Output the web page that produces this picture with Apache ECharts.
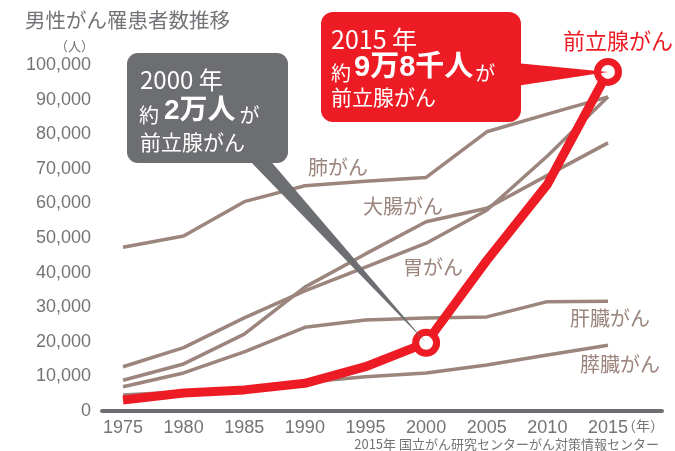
<!DOCTYPE html>
<html>
<head>
<meta charset="utf-8">
<script src="https://cdn.jsdelivr.net/npm/echarts@6/dist/echarts.min.js"></script>
<style>
html,body{margin:0;padding:0;background:#fff;}
#chart{width:675px;height:451px;}
</style>
</head>
<body>
<div id="chart"></div>
<script>
// ---- data ----
const years = [1975, 1980, 1985, 1990, 1995, 2000, 2005, 2010, 2015];
const prostate = [3200, 5200, 6100, 8000, 12800, 19700, 43500, 65500, 98000];
const topLine  = [47300, 50600, 60500, 65100, 66400, 67500, 80700, 85800, 90800];
const lung     = [12800, 18300, 26900, 34700, 41600, 48500, 58000, 73700, 90800];
const colon    = [8900, 13600, 22200, 35800, 45400, 54700, 58600, 68100, 77500];
const liver    = [7000, 11000, 17100, 24200, 26300, 26900, 27200, 31600, 31700];
const pancreas = [4600, 5600, 6600, 8300, 9900, 11000, 13300, 16200, 19000];
const yTicks = [0, 10000, 20000, 30000, 40000, 50000, 60000, 70000, 80000, 90000, 100000];
const markYears = [2000, 2015];

const RED = '#ed1c24', BROWN = '#9b857d', GRAY = '#6d6e71', LGRAY = '#737477';
const JP = '"Noto Sans CJK JP", "Noto Sans", sans-serif';
const NUM = '"Liberation Sans", Arial, sans-serif';
const BOLDNUM = '"Liberation Sans", "Noto Sans CJK JP", sans-serif';

const chart = echarts.init(document.getElementById('chart'));

function pairs(arr) { return years.map((y, i) => [y, arr[i]]); }
function brown(name, arr) {
  return { name, type: 'line', data: pairs(arr), symbol: 'none', z: 2,
    lineStyle: { color: BROWN, width: 3.5 }, silent: true, animation: false };
}
const prostateData = years.map((y, i) => {
  if (markYears.indexOf(y) >= 0) {
    return { value: [y, prostate[i]], symbol: 'circle', symbolSize: 21,
      itemStyle: { color: '#fff', borderColor: RED, borderWidth: 7 } };
  }
  return { value: [y, prostate[i]], symbol: 'none' };
});

chart.setOption({
  animation: false,
  grid: { left: 102, right: 13, top: 65, bottom: 40, containLabel: false },
  xAxis: {
    type: 'value', min: 1973.268, max: 2019.454,
    axisLine: { show: true, onZero: true, lineStyle: { color: GRAY, width: 4 } },
    axisTick: { show: false },
    splitLine: { show: false },
    axisLabel: { customValues: years, formatter: v => String(v), color: LGRAY,
      fontSize: 18, fontFamily: NUM, margin: 8 }
  },
  yAxis: {
    type: 'value', min: 0, max: 100000, interval: 10000,
    axisLine: { show: false }, axisTick: { show: false }, splitLine: { show: false },
    axisLabel: { color: LGRAY, fontSize: 18, fontFamily: NUM, margin: 11,
      formatter: v => v.toLocaleString('en-US') }
  },
  series: [
    brown('胃がん(上)', topLine),
    brown('肺がん', lung),
    brown('大腸がん', colon),
    brown('肝臓がん', liver),
    brown('膵臓がん', pancreas),
    { name: '前立腺がん', type: 'line', data: prostateData, symbol: 'none', z: 5,
      lineStyle: { color: RED, width: 9, join: 'round' }, itemStyle: { color: RED },
      silent: true, animation: false }
  ]
});

const tip2000 = chart.convertToPixel({ gridIndex: 0 }, [2000, prostate[years.indexOf(2000)]]);
const tip2015 = chart.convertToPixel({ gridIndex: 0 }, [2015, prostate[years.indexOf(2015)]]);

chart.setOption({
  graphic: [
    // title
    { type: 'text', left: 25, top: 10, z: 20, style: { text: '男性がん罹患者数推移', fill: LGRAY, font: `20.5px ${JP}` } },
    { type: 'text', x: 94, y: 46, z: 20, style: { text: '（人）', fill: LGRAY, font: `13px ${JP}`, align: 'right', verticalAlign: 'middle' } },
    { type: 'text', x: 664, y: 426, z: 20, style: { text: '（年）', fill: LGRAY, font: `14px ${JP}`, align: 'right', verticalAlign: 'middle' } },
    { type: 'text', x: 659, y: 444, z: 20, style: { text: '2015年 国立がん研究センターがん対策情報センター', fill: LGRAY, font: `13px ${JP}`, align: 'right', verticalAlign: 'middle' } },
    // series labels
    { type: 'text', x: 308, y: 167, z: 20, style: { text: '肺がん', fill: BROWN, font: `20px ${JP}`, verticalAlign: 'middle' } },
    { type: 'text', x: 363, y: 206, z: 20, style: { text: '大腸がん', fill: BROWN, font: `20px ${JP}`, verticalAlign: 'middle' } },
    { type: 'text', x: 403, y: 267, z: 20, style: { text: '胃がん', fill: BROWN, font: `20px ${JP}`, verticalAlign: 'middle' } },
    { type: 'text', x: 570, y: 318, z: 20, style: { text: '肝臓がん', fill: BROWN, font: `20px ${JP}`, verticalAlign: 'middle' } },
    { type: 'text', x: 580, y: 364, z: 20, style: { text: '膵臓がん', fill: BROWN, font: `20px ${JP}`, verticalAlign: 'middle' } },
    { type: 'text', x: 563, y: 41, z: 20, style: { text: '前立腺がん', fill: RED, font: `22px ${JP}`, verticalAlign: 'middle' } },
    // gray callout
    { type: 'polygon', z: 12, silent: true, shape: { points: [[247, 158], [268, 158], [tip2000[0], tip2000[1]]] }, style: { fill: GRAY } },
    { type: 'rect', z: 12, silent: true, shape: { x: 127, y: 53, width: 161, height: 110, r: 11 }, style: { fill: GRAY } },
    { type: 'text', x: 140, y: 80, z: 21, style: { text: '2000 年', fill: '#fff', font: `24px ${JP}`, verticalAlign: 'middle' } },
    { type: 'text', x: 139, y: 125, z: 21, style: { text: '{a|約}{b|2万人}{a|が}', verticalAlign: 'bottom',
        rich: { a: { fill: '#fff', fontSize: 20, fontFamily: JP, verticalAlign: 'bottom' },
                b: { fill: '#fff', fontSize: 28, fontWeight: 'bold', fontFamily: BOLDNUM, verticalAlign: 'bottom', padding: [0, 4, 0, 5] } } } },
    { type: 'text', x: 140, y: 142, z: 21, style: { text: '前立腺がん', fill: '#fff', font: `21px ${JP}`, verticalAlign: 'middle' } },
    // red callout
    { type: 'polygon', z: 12, silent: true, shape: { points: [[516, 63], [516, 86], [tip2015[0], tip2015[1]]] }, style: { fill: RED } },
    { type: 'rect', z: 12, silent: true, shape: { x: 321, y: 12, width: 200, height: 110, r: 12 }, style: { fill: RED } },
    { type: 'text', x: 331, y: 39, z: 21, style: { text: '2015 年', fill: '#fff', font: `25px ${JP}`, verticalAlign: 'middle' } },
    { type: 'text', x: 331, y: 83, z: 21, style: { text: '{a|約}{b|9万8千人}{a|が}', verticalAlign: 'bottom',
        rich: { a: { fill: '#fff', fontSize: 20, fontFamily: JP, verticalAlign: 'bottom' },
                b: { fill: '#fff', fontSize: 29, fontWeight: 'bold', fontFamily: BOLDNUM, verticalAlign: 'bottom', padding: [0, 2, 0, 3] } } } },
    { type: 'text', x: 331, y: 97, z: 21, style: { text: '前立腺がん', fill: '#fff', font: `21px ${JP}`, verticalAlign: 'middle' } }
  ]
});
</script>
</body>
</html>
